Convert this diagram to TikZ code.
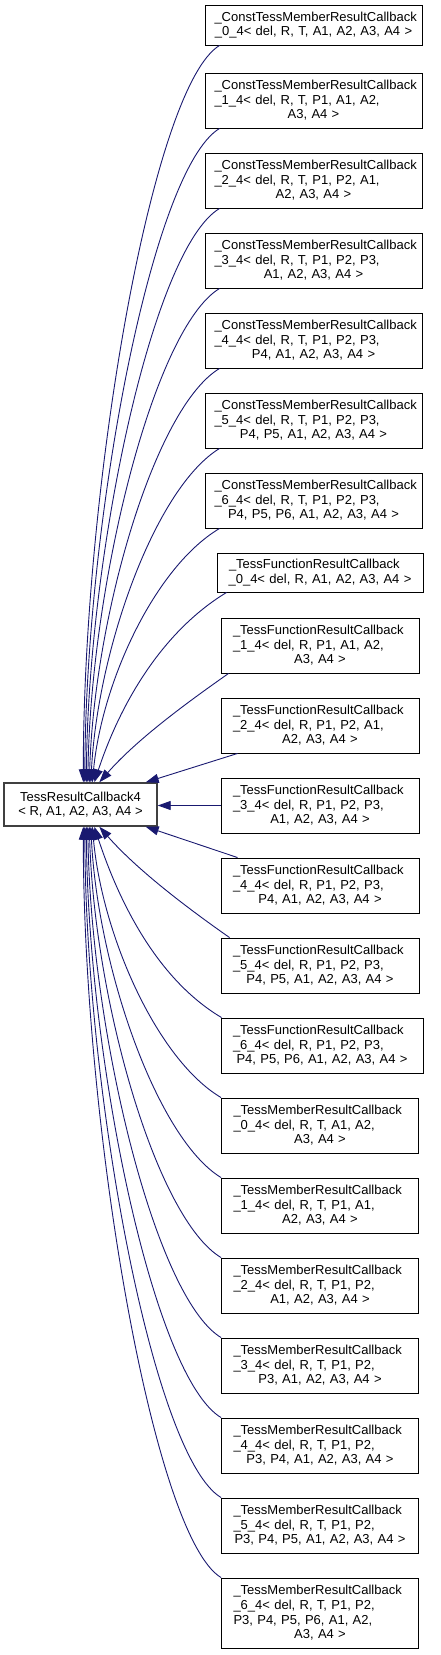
\documentclass[tikz,border=0pt]{standalone}
\usepackage{fontspec}
\setmainfont{Liberation Sans}
\usetikzlibrary{arrows.meta,calc}
\definecolor{edgeblue}{HTML}{191970}
\tikzset{
  cls/.style={draw=black, line width=0.9pt, fill=white, inner xsep=12pt, inner ysep=2pt,
    font=\fontsize{13}{14.6}\selectfont, align=left, anchor=center},
  constbox/.style={cls, inner xsep=9.5pt, text width=198pt, minimum height=55pt},
  funcbox/.style={cls, text width=174pt, minimum height=55pt},
  membox/.style={cls, text width=173pt, minimum height=55pt},
  edge/.style={draw=edgeblue, line width=0.9pt, -{Triangle[length=13pt,width=9pt]}},
}
\newcommand{\lastline}[1]{\makebox[\linewidth][c]{#1}}
\begin{document}
\begin{tikzpicture}[x=1pt,y=-1pt]
\useasboundingbox (0,0) rectangle (440,1655);
% main node
\node[draw=black!75, line width=1.4pt, fill=white, minimum width=153pt, minimum height=43pt,
  inner sep=2pt, align=center, font=\fontsize{13}{14.6}\selectfont] (main) at (80.5,804.5)
  {TessResultCallback4\\< R, A1, A2, A3, A4 >};
% const member callbacks
\node[constbox, minimum height=40pt] (c0) at (313.5,25) {\_ConstTessMemberResultCallback\\\lastline{\_0\_4< del, R, T, A1, A2, A3, A4 >}};
\node[constbox] (c1) at (313.5,100.5) {\_ConstTessMemberResultCallback\\\_1\_4< del, R, T, P1, A1, A2,\\\lastline{A3, A4 >}};
\node[constbox] (c2) at (313.5,180.5) {\_ConstTessMemberResultCallback\\\_2\_4< del, R, T, P1, P2, A1,\\\lastline{A2, A3, A4 >}};
\node[constbox] (c3) at (313.5,260.5) {\_ConstTessMemberResultCallback\\\_3\_4< del, R, T, P1, P2, P3,\\\lastline{A1, A2, A3, A4 >}};
\node[constbox] (c4) at (313.5,340.5) {\_ConstTessMemberResultCallback\\\_4\_4< del, R, T, P1, P2, P3,\\\lastline{P4, A1, A2, A3, A4 >}};
\node[constbox] (c5) at (313.5,420.5) {\_ConstTessMemberResultCallback\\\_5\_4< del, R, T, P1, P2, P3,\\\lastline{P4, P5, A1, A2, A3, A4 >}};
\node[constbox] (c6) at (313.5,500.5) {\_ConstTessMemberResultCallback\\\_6\_4< del, R, T, P1, P2, P3,\\\lastline{P4, P5, P6, A1, A2, A3, A4 >}};
% function callbacks
\node[funcbox, text width=182pt, minimum height=39pt] (f0) at (320,572.5) {\_TessFunctionResultCallback\\\lastline{\_0\_4< del, R, A1, A2, A3, A4 >}};
\node[funcbox] (f1) at (320,645.5) {\_TessFunctionResultCallback\\\_1\_4< del, R, P1, A1, A2,\\\lastline{A3, A4 >}};
\node[funcbox] (f2) at (320,725.5) {\_TessFunctionResultCallback\\\_2\_4< del, R, P1, P2, A1,\\\lastline{A2, A3, A4 >}};
\node[funcbox] (f3) at (320,805.5) {\_TessFunctionResultCallback\\\_3\_4< del, R, P1, P2, P3,\\\lastline{A1, A2, A3, A4 >}};
\node[funcbox] (f4) at (320,885.5) {\_TessFunctionResultCallback\\\_4\_4< del, R, P1, P2, P3,\\\lastline{P4, A1, A2, A3, A4 >}};
\node[funcbox] (f5) at (320,965.5) {\_TessFunctionResultCallback\\\_5\_4< del, R, P1, P2, P3,\\\lastline{P4, P5, A1, A2, A3, A4 >}};
\node[funcbox, text width=178pt] (f6) at (322,1045.5) {\_TessFunctionResultCallback\\\_6\_4< del, R, P1, P2, P3,\\\lastline{P4, P5, P6, A1, A2, A3, A4 >}};
% member callbacks
\node[membox] (m0) at (320,1125.5) {\_TessMemberResultCallback\\\_0\_4< del, R, T, A1, A2,\\\lastline{A3, A4 >}};
\node[membox] (m1) at (320,1205.5) {\_TessMemberResultCallback\\\_1\_4< del, R, T, P1, A1,\\\lastline{A2, A3, A4 >}};
\node[membox] (m2) at (320,1285.5) {\_TessMemberResultCallback\\\_2\_4< del, R, T, P1, P2,\\\lastline{A1, A2, A3, A4 >}};
\node[membox] (m3) at (320,1365.5) {\_TessMemberResultCallback\\\_3\_4< del, R, T, P1, P2,\\\lastline{P3, A1, A2, A3, A4 >}};
\node[membox] (m4) at (320,1445.5) {\_TessMemberResultCallback\\\_4\_4< del, R, T, P1, P2,\\\lastline{P3, P4, A1, A2, A3, A4 >}};
\node[membox] (m5) at (320,1525.5) {\_TessMemberResultCallback\\\_5\_4< del, R, T, P1, P2,\\\lastline{P3, P4, P5, A1, A2, A3, A4 >}};
\node[membox, minimum height=70pt] (m6) at (320,1613) {\_TessMemberResultCallback\\\_6\_4< del, R, T, P1, P2,\\P3, P4, P5, P6, A1, A2,\\\lastline{A3, A4 >}};
% edges from upper children
\draw[edge] ($(c0.south west)+(15,0)$) .. controls +(-68,41) and +(0,-295) .. ($(main.north west)+(80,0)$);
\draw[edge] ($(c1.south west)+(15,0)$) .. controls +(-68,41) and +(1,-262) .. ($(main.north west)+(81.5,0)$);
\draw[edge] ($(c2.south west)+(15,0)$) .. controls +(-67,40) and +(2,-230) .. ($(main.north west)+(83,0)$);
\draw[edge] ($(c3.south west)+(15,0)$) .. controls +(-66,40) and +(3,-198) .. ($(main.north west)+(84.5,0)$);
\draw[edge] ($(c4.south west)+(15,0)$) .. controls +(-65,39) and +(5,-166) .. ($(main.north west)+(86,0)$);
\draw[edge] ($(c5.south west)+(15,0)$) .. controls +(-64,39) and +(7,-134) .. ($(main.north west)+(87.5,0)$);
\draw[edge] ($(c6.south west)+(15,0)$) .. controls +(-64,38) and +(10,-102) .. ($(main.north west)+(89,0)$);
\draw[edge] ($(f0.south west)+(10,0)$) .. controls +(-66,40) and +(25,-76) .. ($(main.north west)+(91,0)$);
\draw[edge] ($(f1.south west)+(8,0)$) .. controls +(-50,35) and +(35,-40) .. ($(main.north west)+(96,0)$);
\draw[edge] ($(f2.south west)+(17,0)$) -- ($(main.north east)+(-12,0)$);
\draw[edge] (f3.west) -- (f3.west -| main.east);
\draw[edge] ($(f4.north west)+(17,0)$) -- ($(main.south east)+(-12,0)$);
% edges from lower children
\draw[edge] ($(f5.north west)+(9,0)$) .. controls +(-50,-35) and +(35,40) .. ($(main.south west)+(96,0)$);
\draw[edge] ($(f6.north west)+(1,0)$) .. controls +(-64,-38) and +(25,76) .. ($(main.south west)+(91,0)$);
\draw[edge] (m0.north west) .. controls +(-64,-38) and +(10,109) .. ($(main.south west)+(89,0)$);
\draw[edge] (m1.north west) .. controls +(-64,-39) and +(7,141) .. ($(main.south west)+(87.5,0)$);
\draw[edge] (m2.north west) .. controls +(-65,-39) and +(5,173) .. ($(main.south west)+(86,0)$);
\draw[edge] (m3.north west) .. controls +(-66,-40) and +(3,205) .. ($(main.south west)+(84.5,0)$);
\draw[edge] (m4.north west) .. controls +(-67,-40) and +(2,237) .. ($(main.south west)+(83,0)$);
\draw[edge] (m5.north west) .. controls +(-68,-41) and +(1,269) .. ($(main.south west)+(81.5,0)$);
\draw[edge] (m6.north west) .. controls +(-68,-41) and +(0,301) .. ($(main.south west)+(80,0)$);
\end{tikzpicture}
\end{document}
